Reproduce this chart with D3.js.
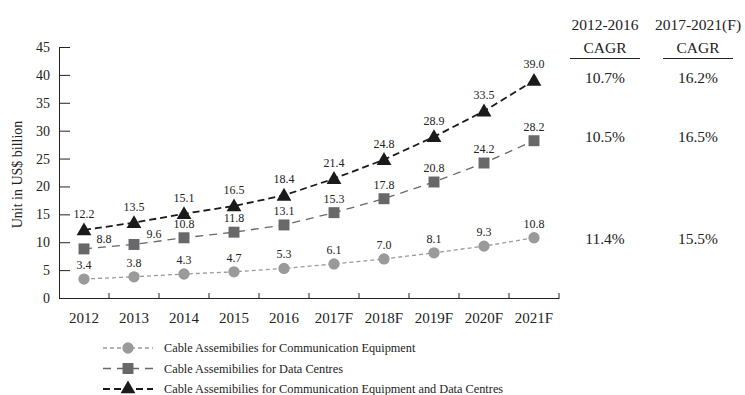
<!DOCTYPE html>
<html>
<head>
<meta charset="utf-8">
<script src="https://cdn.jsdelivr.net/npm/d3@7"></script>
<style>
  body { margin: 0; background: #fff; }
  svg { display: block; font-family: "Liberation Serif", "Times New Roman", serif; }
</style>
</head>
<body>
<div id="chart"></div>
<script>
const years = ["2012", "2013", "2014", "2015", "2016", "2017F", "2018F", "2019F", "2020F", "2021F"];
const commEquip = [3.4, 3.8, 4.3, 4.7, 5.3, 6.1, 7.0, 8.1, 9.3, 10.8];
const dataCentres = [8.8, 9.6, 10.8, 11.8, 13.1, 15.3, 17.8, 20.8, 24.2, 28.2];
const combined = [12.2, 13.5, 15.1, 16.5, 18.4, 21.4, 24.8, 28.9, 33.5, 39.0];
const yTicks = [0, 5, 10, 15, 20, 25, 30, 35, 40, 45];
const cagrHeaders = [["2012-2016", "CAGR"], ["2017-2021(F)", "CAGR"]];
const cagr2012 = ["10.7%", "10.5%", "11.4%"];
const cagr2017 = ["16.2%", "16.5%", "15.5%"];

const width = 745, height = 395;
const margin = { top: 47, right: 186, bottom: 97, left: 59 };
const FONT = "Liberation Serif";

const svg = d3.select("#chart").append("svg")
  .attr("width", width).attr("height", height);

const x = d3.scaleBand().domain(years).range([margin.left, width - margin.right]);
const y = d3.scaleLinear().domain([0, 45]).range([height - margin.bottom, margin.top]);
const cx = d => x(d) + x.bandwidth() / 2;

// y axis, ticks point into the plot
const yAxis = svg.append("g")
  .attr("transform", `translate(${margin.left},0)`)
  .call(d3.axisLeft(y).tickValues(yTicks).tickSize(-11).tickSizeOuter(0).tickPadding(9));
yAxis.attr("font-family", FONT);
yAxis.selectAll("text").attr("font-size", 14).attr("fill", "#222");
yAxis.selectAll("line, path").attr("stroke", "#222");

// x axis, small ticks between the years
const xAxis = svg.append("g")
  .attr("transform", `translate(0,${y(0)})`)
  .call(d3.axisBottom(x).tickSize(0).tickPadding(14));
xAxis.attr("font-family", FONT);
xAxis.select(".domain").attr("stroke", "#222");
xAxis.selectAll("text").attr("font-size", 15).attr("fill", "#222");
xAxis.selectAll(".bound")
  .data(years)
  .join("line")
  .attr("class", "bound")
  .attr("x1", d => x(d) + x.bandwidth()).attr("x2", d => x(d) + x.bandwidth())
  .attr("y1", 0).attr("y2", -5)
  .attr("stroke", "#222");

svg.append("text")
  .attr("transform", `translate(22,${(y(0) + y(45)) / 2 + 2}) rotate(-90)`)
  .attr("text-anchor", "middle")
  .attr("font-size", 14)
  .attr("fill", "#222")
  .text("Unit in US$ billion");

const series = [
  { name: "Cable Assemibilies for Communication Equipment", values: commEquip, color: "#9a9a9a", dash: "4,3", sw: 1.3, shape: d3.symbolCircle, size: 100 },
  { name: "Cable Assemibilies for Data Centres", values: dataCentres, color: "#68686a", dash: "8,6", sw: 1.3, shape: d3.symbolSquare, size: 120 },
  { name: "Cable Assemibilies for Communication Equipment and Data Centres", values: combined, color: "#1a1a1a", dash: "7,4", sw: 1.8, shape: d3.symbolTriangle, size: 95 }
];

const line = d3.line().x(d => cx(d.year)).y(d => y(d.v));

series.forEach((s, si) => {
  const pts = years.map((yr, i) => ({ year: yr, v: s.values[i] }));
  svg.append("path")
    .datum(pts)
    .attr("d", line)
    .attr("fill", "none")
    .attr("stroke", s.color)
    .attr("stroke-width", s.sw)
    .attr("stroke-dasharray", s.dash);
  svg.selectAll(".m" + si)
    .data(pts)
    .join("path")
    .attr("class", "m" + si)
    .attr("transform", d => `translate(${cx(d.year)},${y(d.v) + (s.shape === d3.symbolTriangle ? 1 : 0)})`)
    .attr("d", d3.symbol(s.shape, s.size))
    .attr("fill", s.color);
  // the first two data-centre labels sit to the right of their marker
  const sideLabel = d => si === 1 && (d.year === "2012" || d.year === "2013");
  svg.selectAll(".l" + si)
    .data(pts)
    .join("text")
    .attr("class", "l" + si)
    .attr("x", d => cx(d.year) + (sideLabel(d) ? 20 : 0))
    .attr("y", d => y(d.v) - (sideLabel(d) ? 6 : (si === 2 ? 12 : 10)))
    .attr("text-anchor", "middle")
    .attr("font-size", 12)
    .attr("fill", "#222")
    .text(d => d.v.toFixed(1));
});

// CAGR table
const cols = [605, 698];
cagrHeaders.forEach((h, i) => {
  svg.append("text").attr("x", cols[i]).attr("y", 29.5).attr("text-anchor", "middle")
    .attr("font-size", 15.5).attr("fill", "#222").text(h[0]);
  svg.append("text").attr("x", cols[i]).attr("y", 52.5).attr("text-anchor", "middle")
    .attr("font-size", 15.5).attr("fill", "#222").text(h[1]);
  svg.append("line").attr("x1", cols[i] - 35).attr("x2", cols[i] + 35)
    .attr("y1", 58.5).attr("y2", 58.5).attr("stroke", "#222").attr("stroke-width", 1);
});
const cagrRowsY = [83, 142, 244];
[cagr2012, cagr2017].forEach((vals, i) => {
  vals.forEach((v, j) => {
    svg.append("text").attr("x", cols[i]).attr("y", cagrRowsY[j]).attr("text-anchor", "middle")
      .attr("font-size", 15.5).attr("fill", "#222").text(v);
  });
});

// legend
const legend = svg.selectAll(".legend")
  .data(series)
  .join("g")
  .attr("class", "legend")
  .attr("transform", (d, i) => `translate(103,${348 + i * 20.5})`);
legend.append("line")
  .attr("x1", 0).attr("x2", 50).attr("y1", 0).attr("y2", 0)
  .attr("stroke", d => d.color)
  .attr("stroke-width", d => d.sw)
  .attr("stroke-dasharray", d => d.dash);
legend.append("path")
  .attr("transform", "translate(25,0)")
  .attr("d", d => d3.symbol(d.shape, d.size)())
  .attr("fill", d => d.color);
legend.append("text")
  .attr("x", 61).attr("y", 4)
  .attr("font-size", 12.3)
  .attr("fill", "#222")
  .text(d => d.name);
</script>
</body>
</html>
